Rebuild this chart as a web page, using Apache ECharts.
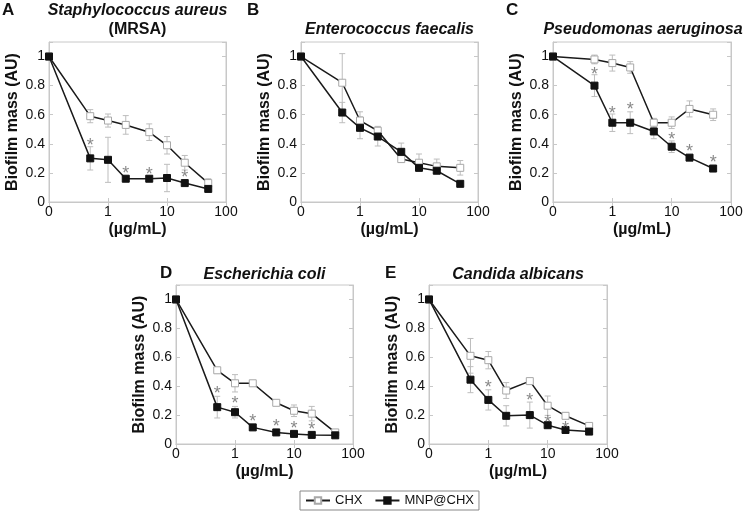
<!DOCTYPE html>
<html>
<head>
<meta charset="utf-8">
<script src="https://cdn.jsdelivr.net/npm/echarts@6/dist/echarts.min.js"></script>
<style>
html,body{margin:0;padding:0;background:#fff;}
#chart{width:746px;height:517px;}
</style>
</head>
<body>
<div id="chart"></div>
<script>
// Concentrations (µg/mL); 0 is drawn at the axis origin (0.1 on the log axis)
const conc = [0, 0.5, 1, 2, 5, 10, 20, 50];
const xTickLabels = ['0', '1', '10', '100'];
const yTickLabels = ['0', '0.2', '0.4', '0.6', '0.8', '1'];

const panelLetters = ['A', 'B', 'C', 'D', 'E'];
const panelTitles = ['Staphylococcus aureus', 'Enterococcus faecalis', 'Pseudomonas aeruginosa', 'Escherichia coli', 'Candida albicans'];

// A: S. aureus (MRSA)
const aCHX    = [1, 0.59, 0.56, 0.53, 0.48, 0.39, 0.27, 0.13];
const aCHXErr = [0, 0.045, 0.045, 0.064, 0.057, 0.06, 0.05, 0.03];
const aMNP    = [1, 0.30, 0.29, 0.16, 0.16, 0.165, 0.13, 0.09];
const aMNPErr = [0, 0.08, 0.155, 0.01, 0.01, 0.094, 0.01, 0.01];
const aStarX  = [0.5, 2, 5, 20];
const aStarY  = [0.42, 0.23, 0.22, 0.20];

// B: E. faecalis
const bCHX    = [1, 0.82, 0.56, 0.49, 0.295, 0.27, 0.245, 0.235];
const bCHXErr = [0, 0.2, 0.06, 0.03, 0.02, 0.06, 0.05, 0.05];
const bMNP    = [1, 0.615, 0.51, 0.45, 0.345, 0.235, 0.215, 0.125];
const bMNPErr = [0, 0.07, 0.075, 0.065, 0.06, 0.015, 0.02, 0.01];
const bStarX  = [];
const bStarY  = [];

// C: P. aeruginosa
const cCHX    = [1, 0.98, 0.955, 0.925, 0.545, 0.545, 0.64, 0.60];
const cCHXErr = [0, 0.03, 0.055, 0.04, 0.03, 0.04, 0.055, 0.04];
const cMNP    = [1, 0.80, 0.545, 0.545, 0.485, 0.38, 0.305, 0.23];
const cMNPErr = [0, 0.075, 0.06, 0.075, 0.05, 0.04, 0.015, 0.01];
const cStarX  = [0.5, 1, 2, 10, 20, 50];
const cStarY  = [0.91, 0.64, 0.665, 0.46, 0.38, 0.30];

// D: E. coli
const dCHX    = [1, 0.51, 0.42, 0.42, 0.285, 0.23, 0.21, 0.08];
const dCHXErr = [0, 0.02, 0.06, 0.01, 0.01, 0.04, 0.05, 0.01];
const dMNP    = [1, 0.255, 0.22, 0.115, 0.08, 0.07, 0.063, 0.06];
const dMNPErr = [0, 0.075, 0.04, 0.01, 0.01, 0.01, 0.01, 0.01];
const dStarX  = [0.5, 1, 2, 5, 10, 20];
const dStarY  = [0.38, 0.31, 0.19, 0.15, 0.14, 0.13];

// E: C. albicans
const eCHX    = [1, 0.61, 0.58, 0.37, 0.435, 0.265, 0.195, 0.125];
const eCHXErr = [0, 0.12, 0.06, 0.055, 0.01, 0.067, 0.02, 0.01];
const eMNP    = [1, 0.445, 0.305, 0.195, 0.20, 0.13, 0.097, 0.086];
const eMNPErr = [0, 0.09, 0.07, 0.07, 0.09, 0.02, 0.01, 0.01];
const eStarX  = [1, 5, 10, 20];
const eStarY  = [0.42, 0.335, 0.18, 0.14];

const panels = [
  {chx: aCHX, chxErr: aCHXErr, mnp: aMNP, mnpErr: aMNPErr, sx: aStarX, sy: aStarY},
  {chx: bCHX, chxErr: bCHXErr, mnp: bMNP, mnpErr: bMNPErr, sx: bStarX, sy: bStarY},
  {chx: cCHX, chxErr: cCHXErr, mnp: cMNP, mnpErr: cMNPErr, sx: cStarX, sy: cStarY},
  {chx: dCHX, chxErr: dCHXErr, mnp: dMNP, mnpErr: dMNPErr, sx: dStarX, sy: dStarY},
  {chx: eCHX, chxErr: eCHXErr, mnp: eMNP, mnpErr: eMNPErr, sx: eStarX, sy: eStarY}
];

const ZERO_POS = 0.1;
const xPos = c => (c === 0 ? ZERO_POS : c);

const FONT = '"Liberation Sans", Arial, Helvetica, sans-serif';

const grids = [
  {left: 49,  top: 42,  width: 177, height: 160},
  {left: 301, top: 42,  width: 177, height: 160},
  {left: 553, top: 42,  width: 178, height: 160},
  {left: 176, top: 285, width: 177, height: 159},
  {left: 429, top: 285, width: 178, height: 159}
];

const xAxes = [], yAxes = [], series = [], graphics = [];

grids.forEach((g, i) => {
  xAxes.push({
    type: 'log', logBase: 10, min: 0.1, max: 100, gridIndex: i,
    name: '(µg/mL)', nameLocation: 'middle', nameGap: 20,
    nameTextStyle: {fontFamily: FONT, fontSize: 16, fontWeight: 'bold', color: '#111'},
    axisLine: {show: true, lineStyle: {color: '#c8c8c8', width: 1}},
    axisTick: {show: true, inside: true, length: 4, lineStyle: {color: '#c8c8c8'}},
    minorTick: {show: false},
    splitLine: {show: false},
    axisLabel: {
      fontFamily: FONT, fontSize: 14, color: '#111', margin: 3,
      formatter: v => {
        const k = Math.round(Math.log10(v)) + 1;
        return xTickLabels[k] !== undefined ? xTickLabels[k] : '';
      }
    }
  });
  xAxes.push({
    type: 'log', logBase: 10, min: 0.1, max: 100, gridIndex: i, position: 'top',
    axisLine: {show: true, lineStyle: {color: '#c8c8c8', width: 1}},
    axisTick: {show: true, inside: true, length: 4, lineStyle: {color: '#c8c8c8'}},
    axisLabel: {show: false}, splitLine: {show: false}
  });
  yAxes.push({
    type: 'value', min: 0, max: 1.1, interval: 0.2, gridIndex: i,
    name: 'Biofilm mass (AU)', nameLocation: 'middle', nameGap: 28,
    nameTextStyle: {fontFamily: FONT, fontSize: 16, fontWeight: 'bold', color: '#111'},
    axisLine: {show: true, lineStyle: {color: '#c8c8c8', width: 1}},
    axisTick: {show: true, inside: true, length: 4, lineStyle: {color: '#c8c8c8'}},
    splitLine: {show: false},
    axisLabel: {
      fontFamily: FONT, fontSize: 14, color: '#111', margin: 4,
      formatter: v => {
        const k = Math.round(v / 0.2);
        return (Math.abs(v - k * 0.2) < 1e-6 && yTickLabels[k] !== undefined) ? yTickLabels[k] : '';
      }
    }
  });
  yAxes.push({
    type: 'value', min: 0, max: 1.1, interval: 0.2, gridIndex: i, position: 'right',
    axisLine: {show: true, lineStyle: {color: '#c8c8c8', width: 1}},
    axisTick: {show: true, inside: true, length: 4, lineStyle: {color: '#c8c8c8'}},
    axisLabel: {show: false}, splitLine: {show: false}
  });

  const p = panels[i];
  const xi = i * 2, yi = i * 2;

  const errSeries = (vals, errs, name) => ({
    type: 'custom', name: name + ' err', xAxisIndex: xi, yAxisIndex: yi, z: 1,
    silent: true,
    data: conc.map((c, k) => [xPos(c), vals[k], errs[k]]),
    renderItem: (params, api) => {
      const x = api.value(0), y = api.value(1), e = api.value(2);
      if (!e) return null;
      const top = api.coord([x, y + e]);
      const bot = api.coord([x, y - e]);
      const w = 3;
      const st = {stroke: '#bdbdbd', lineWidth: 1};
      return {type: 'group', children: [
        {type: 'line', shape: {x1: top[0], y1: top[1], x2: bot[0], y2: bot[1]}, style: st},
        {type: 'line', shape: {x1: top[0] - w, y1: top[1], x2: top[0] + w, y2: top[1]}, style: st},
        {type: 'line', shape: {x1: bot[0] - w, y1: bot[1], x2: bot[0] + w, y2: bot[1]}, style: st}
      ]};
    }
  });

  series.push(errSeries(p.chx, p.chxErr, 'CHX'));
  series.push(errSeries(p.mnp, p.mnpErr, 'MNP@CHX'));

  series.push({
    type: 'line', name: 'CHX', xAxisIndex: xi, yAxisIndex: yi, z: 3,
    data: conc.map((c, k) => [xPos(c), p.chx[k]]),
    symbol: 'rect', symbolSize: 7, showAllSymbol: true,
    lineStyle: {color: '#1a1a1a', width: 1.5},
    itemStyle: {color: '#ffffff', borderColor: '#a8a8a8', borderWidth: 1},
    emphasis: {disabled: true}, animation: false
  });
  series.push({
    type: 'line', name: 'MNP@CHX', xAxisIndex: xi, yAxisIndex: yi, z: 4,
    data: conc.map((c, k) => [xPos(c), p.mnp[k]]),
    symbol: 'rect', symbolSize: 7, showAllSymbol: true,
    lineStyle: {color: '#1a1a1a', width: 1.5},
    itemStyle: {color: '#111111', borderColor: '#111111', borderWidth: 1},
    emphasis: {disabled: true}, animation: false
  });
  if (p.sx.length) {
    series.push({
      type: 'scatter', name: 'sig', xAxisIndex: xi, yAxisIndex: yi, z: 5,
      data: p.sx.map((x, k) => [x, p.sy[k]]),
      symbolSize: 1, itemStyle: {color: 'rgba(0,0,0,0)'},
      label: {show: true, position: 'inside', formatter: '*', offset: [0, 5],
              fontFamily: FONT, fontSize: 18, color: '#6a6a6a'},
      silent: true
    });
  }

  // panel letter & title
  const cx = g.left + g.width / 2;
  const letterPos = [[2, 11], [247, 11], [506, 11], [160, 274], [385, 274]][i];
  graphics.push({type: 'text', left: letterPos[0], top: letterPos[1] - 9,
    style: {text: panelLetters[i], font: 'bold 17px ' + FONT, fill: '#111'}});
  const titleY = i === 0 ? 11 : (i < 3 ? 30 : 275);
  const tx = i === 2 ? 643 : cx;
  graphics.push({type: 'text', x: tx, y: titleY,
    style: {text: panelTitles[i], font: 'italic bold 16px ' + FONT, fill: '#111',
            textAlign: 'center', textVerticalAlign: 'middle'}});
  if (i === 0) {
    graphics.push({type: 'text', x: cx, y: 30,
      style: {text: '(MRSA)', font: 'bold 16px ' + FONT, fill: '#111',
              textAlign: 'center', textVerticalAlign: 'middle'}});
  }
});

const chart = echarts.init(document.getElementById('chart'), null, {renderer: 'canvas'});
chart.setOption({
  animation: false,
  backgroundColor: '#ffffff',
  grid: grids.map(g => Object.assign({show: true, borderColor: '#c8c8c8', borderWidth: 1, containLabel: false}, g)),
  xAxis: xAxes,
  yAxis: yAxes,
  legend: {
    data: ['CHX', 'MNP@CHX'],
    left: 300, top: 491,
    padding: [3, 5], itemGap: 12, itemWidth: 24, itemHeight: 8,
    borderColor: '#888', borderWidth: 1,
    textStyle: {fontFamily: FONT, fontSize: 13, color: '#111'},
    selectedMode: false
  },
  series: series,
  graphic: graphics
});
</script>
</body>
</html>
